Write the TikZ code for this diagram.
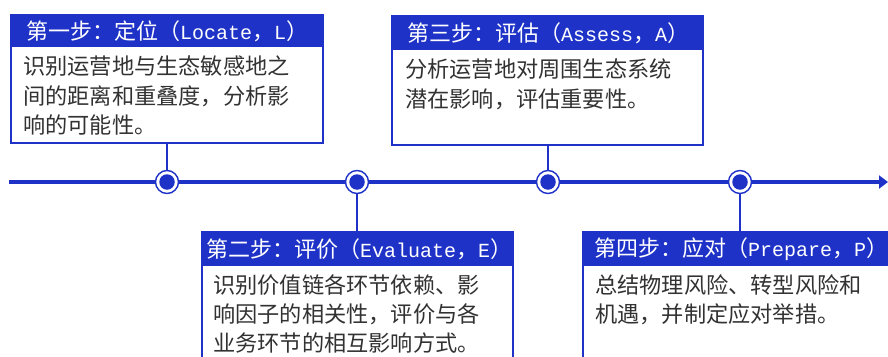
\documentclass[tikz,border=0pt]{standalone}
\usepackage{fontspec}
\newfontfamily\cjk{Noto Sans CJK SC}
\newfontfamily\lat{Liberation Mono}
\newcommand{\lt}[1]{{\lat\fontsize{20}{24}\selectfont #1}}
\usetikzlibrary{arrows.meta}
\definecolor{mblue}{RGB}{30,50,200}
\definecolor{mtext}{RGB}{50,50,50}
\tikzset{
  box/.style={draw=mblue, line width=1.4pt, fill=white, anchor=north west, inner sep=0pt, outer sep=0pt},
  head/.style={fill=mblue, draw=mblue, line width=1.4pt, anchor=north west, inner sep=0pt, outer sep=0pt},
  headtxt/.style={text=white, anchor=west, inner sep=0pt, font=\cjk\fontsize{22}{24}\selectfont},
  bodytxt/.style={text=mtext, anchor=north west, inner sep=0pt, align=left, font=\cjk\fontsize{22.2}{29.2}\selectfont},
  dotout/.style={circle, draw=mblue, line width=1.4pt, fill=white, minimum size=23pt, inner sep=0pt},
  dotin/.style={circle, fill=mblue, minimum size=15.5pt, inner sep=0pt},
  conn/.style={draw=mblue, line width=1.5pt}
}
\begin{document}
\begin{tikzpicture}[x=1pt,y=-1pt]
\useasboundingbox (0,0) rectangle (888,356);
\clip (0,0) rectangle (888,356);
% timeline
\coordinate (tl0) at (9,182);
\coordinate (tl1) at (888,182);
\draw[mblue, line width=4pt, -{Triangle[length=9pt,width=13pt]}] (tl0) -- (tl1);
% boxes
\node[box, minimum width=312pt, minimum height=128pt] (b1) at (11,15) {};
\node[head, minimum width=312pt, minimum height=31pt] (h1) at (11,15) {};
\node[box, minimum width=311pt, minimum height=129pt] (b3) at (392,16) {};
\node[head, minimum width=311pt, minimum height=33pt] (h3) at (392,16) {};
\node[box, minimum width=311pt, minimum height=140pt] (b2) at (202,232) {};
\node[head, minimum width=311pt, minimum height=33pt] (h2) at (202,232) {};
\node[box, minimum width=320pt, minimum height=140pt] (b4) at (583,232) {};
\node[head, minimum width=320pt, minimum height=33pt] (h4) at (583,232) {};
% header texts
\node[headtxt] (t1) at (26,31) {第一步：定位（\lt{Locate}，\lt{L}）};
\node[headtxt] (t3) at (407,33) {第三步：评估（\lt{Assess}，\lt{A}）};
\node[headtxt] (t2) at (206,249) {第二步：评价（\lt{Evaluate}，\lt{E}）};
\node[headtxt] (t4) at (594,249) {第四步：应对（\lt{Prepare}，\lt{P}）};
% body texts
\node[bodytxt] (x1) at (23,56) {识别运营地与生态敏感地之\\间的距离和重叠度，分析影\\响的可能性。};
\node[bodytxt] (x3) at (405,59) {分析运营地对周围生态系统\\潜在影响，评估重要性。};
\node[bodytxt] (x2) at (213,274) {识别价值链各环节依赖、影\\响因子的相关性，评价与各\\业务环节的相互影响方式。};
\node[bodytxt] (x4) at (595,274) {总结物理风险、转型风险和\\机遇，并制定应对举措。};
% dots
\node[dotout] (c1) at (167,182) {};
\node[dotout] (c2) at (357,182) {};
\node[dotout] (c3) at (548,182) {};
\node[dotout] (c4) at (740,182) {};
\node[dotin] (d1) at (c1) {};
\node[dotin] (d2) at (c2) {};
\node[dotin] (d3) at (c3) {};
\node[dotin] (d4) at (c4) {};
% connectors
\draw[conn] (c1.north) -- (c1.north |- b1.south);
\draw[conn] (c3.north) -- (c3.north |- b3.south);
\draw[conn] (c2.south) -- (c2.south |- b2.north);
\draw[conn] (c4.south) -- (c4.south |- b4.north);
\end{tikzpicture}
\end{document}
